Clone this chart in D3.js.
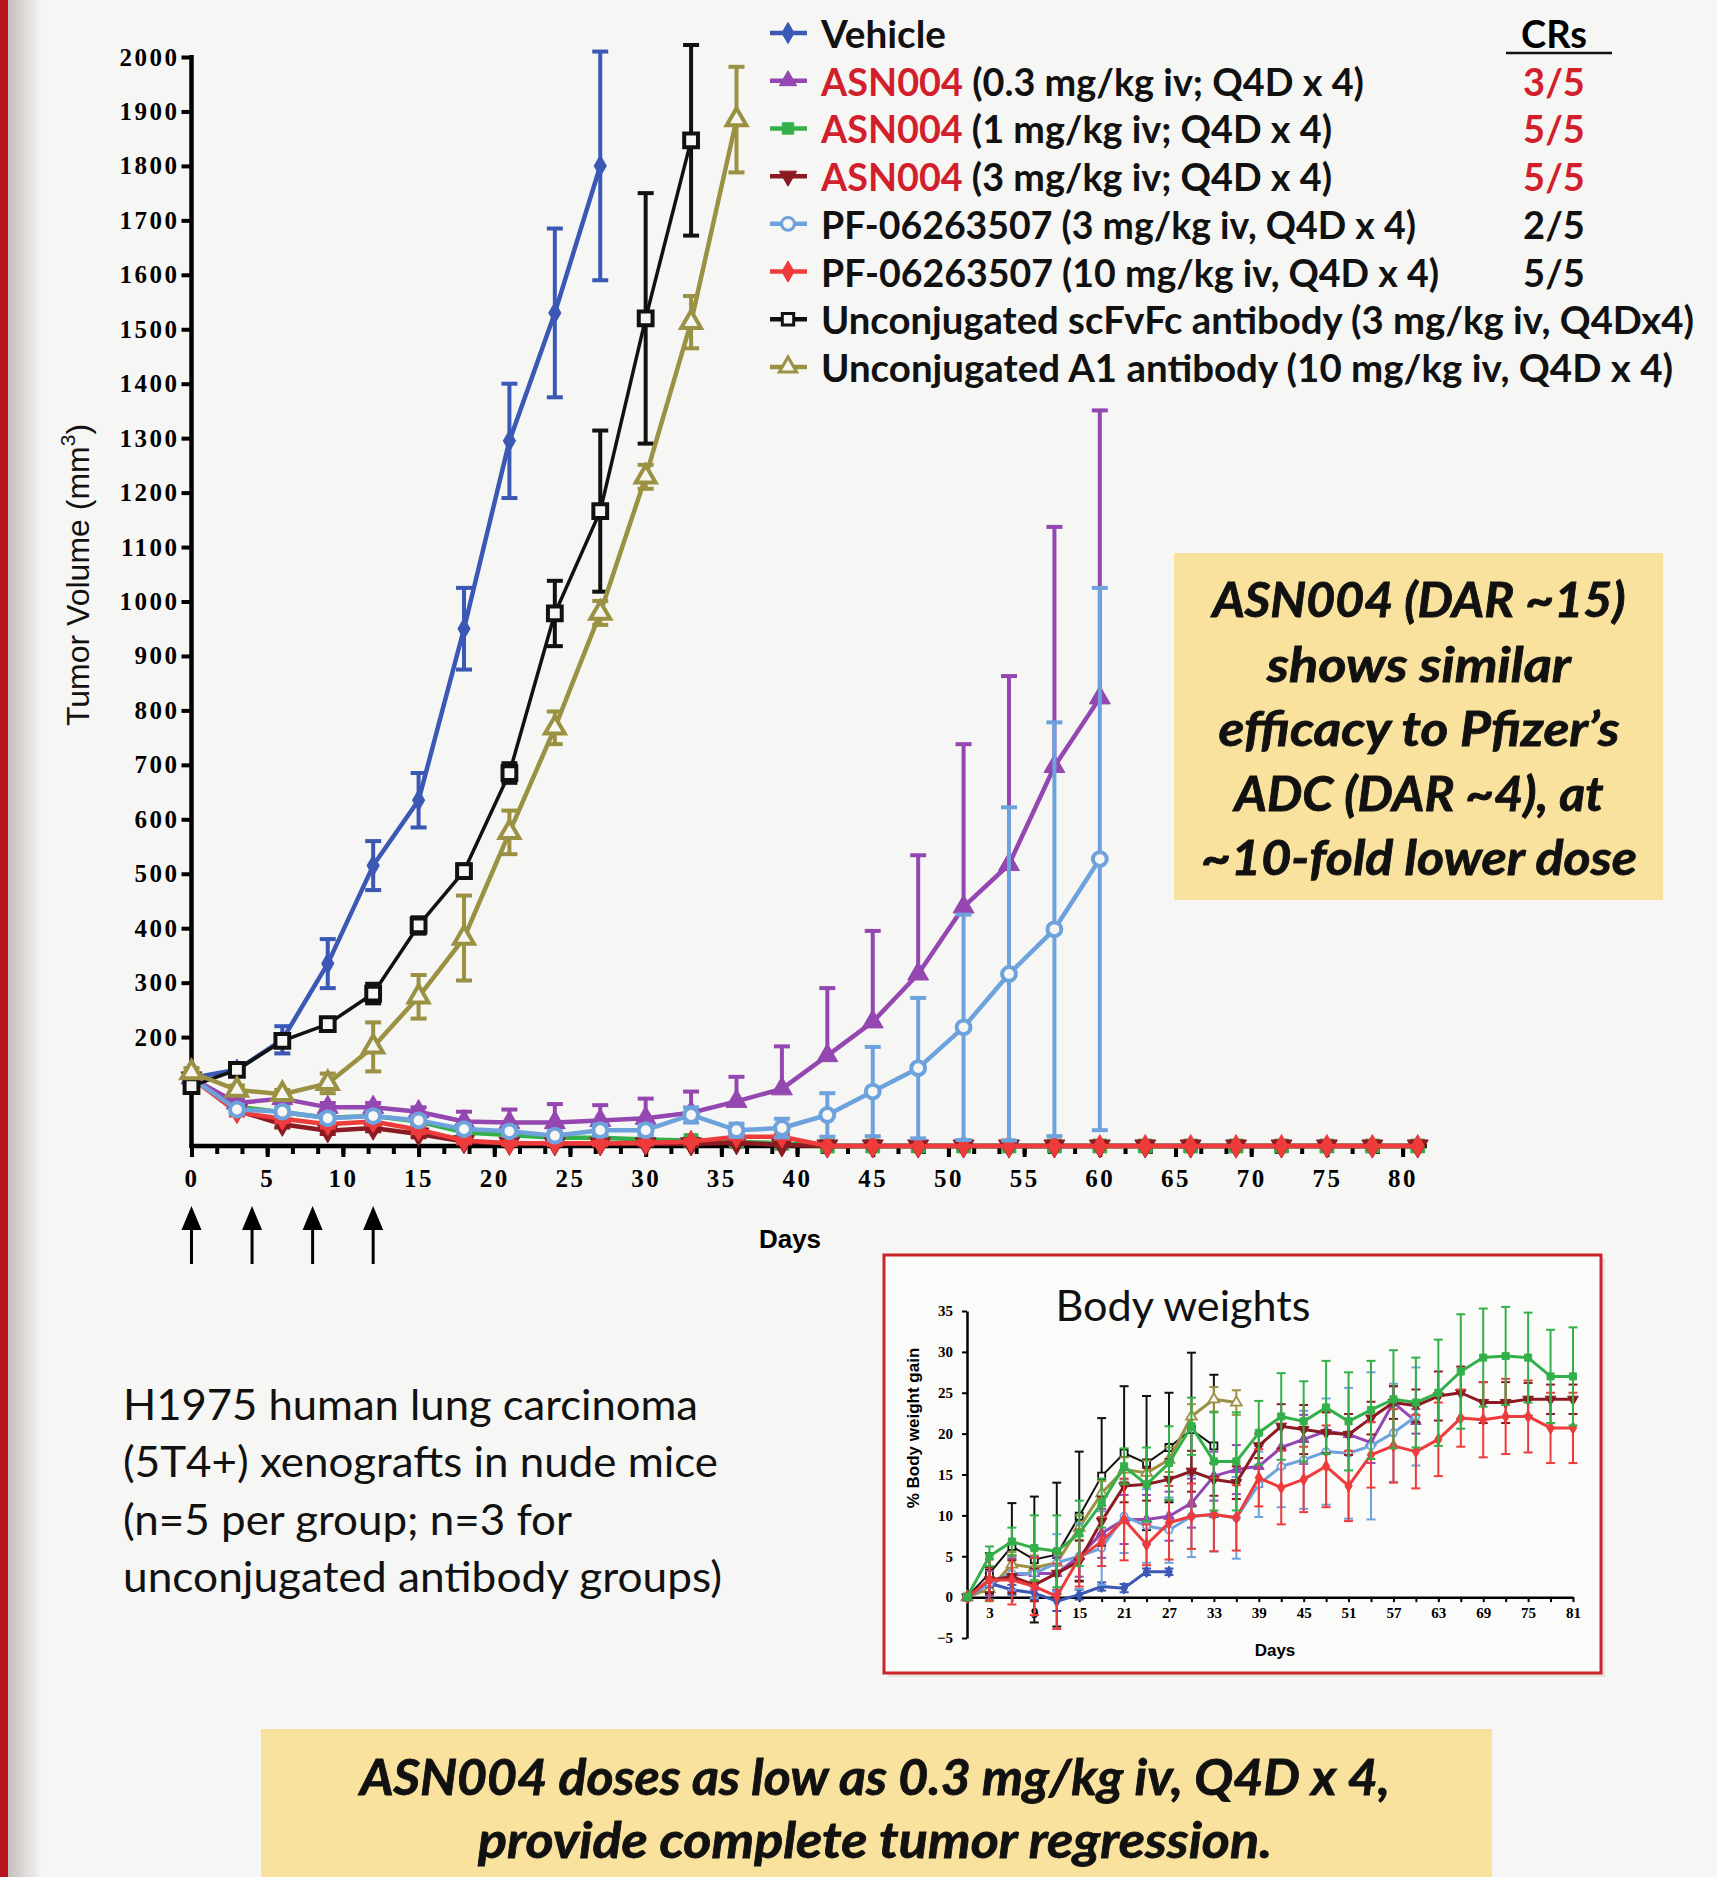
<!DOCTYPE html>
<html>
<head>
<meta charset="utf-8">
<script src="https://cdn.jsdelivr.net/npm/d3@7"></script>
<style>
  body { margin: 0; background: #f6f6f4; }
  svg { display: block; }
</style>
</head>
<body>
<div id="chart"></div>
<script>
// ---- data ----
const tumorDays = [0, 3, 6, 9, 12, 15, 18, 21, 24, 27, 30, 33, 36, 39, 42, 45, 48, 51, 54, 57, 60, 63, 66, 69, 72, 75, 78, 81];

// tumor volume (mm3), mean and SEM
const vehicleVol = [125, 140, 195, 335, 515, 635, 950, 1295, 1530, 1800];
const vehicleSem = [8, 8, 25, 45, 45, 50, 75, 105, 155, 210];
const asn03Vol = [125, 79, 87, 71, 71, 63, 45, 43, 43, 47, 51, 61, 82, 105, 166, 228, 316, 439, 517, 697, 823];
const asn03Sem = [5, 6, 8, 8, 8, 8, 18, 24, 34, 28, 36, 39, 45, 78, 124, 167, 218, 299, 346, 440, 528];
const asn1Vol = [125, 72, 62, 52, 55, 45, 25, 20, 15, 15, 12, 10, 8, 5, 0, 0, 0, 0, 0, 0, 0, 0, 0, 0, 0, 0, 0, 0];
const asn1Sem = [5, 6, 6, 6, 6, 6, 5, 5, 5, 5, 4, 4, 4, 3, 0, 0, 0, 0, 0, 0, 0, 0, 0, 0, 0, 0, 0, 0];
const asn3Vol = [125, 65, 40, 28, 33, 22, 8, 5, 4, 4, 4, 4, 6, 2, 0, 0, 0, 0, 0, 0, 0, 0, 0, 0, 0, 0, 0, 0];
const asn3Sem = [5, 6, 6, 6, 6, 6, 4, 3, 3, 3, 3, 3, 3, 2, 0, 0, 0, 0, 0, 0, 0, 0, 0, 0, 0, 0, 0, 0];
const pf3Vol = [125, 67, 63, 51, 55, 47, 31, 27, 19, 29, 29, 57, 29, 33, 57, 100, 143, 218, 316, 398, 527];
const pf3Sem = [5, 8, 8, 8, 8, 8, 8, 8, 8, 10, 10, 14, 12, 17, 40, 82, 129, 207, 306, 380, 498];
const pf10Vol = [125, 62, 50, 40, 45, 30, 10, 5, 5, 5, 6, 8, 17, 17, 0, 0, 0, 0, 0, 0, 0, 0, 0, 0, 0, 0, 0, 0];
const pf10Sem = [5, 6, 6, 6, 6, 6, 4, 3, 3, 3, 3, 3, 4, 4, 0, 0, 0, 0, 0, 0, 0, 0, 0, 0, 0, 0, 0, 0];
const scfvVol = [110, 140, 193, 224, 280, 405, 505, 685, 978, 1166, 1520, 1847];
const scfvSem = [8, 8, 10, 10, 18, 15, 12, 18, 60, 148, 230, 175];
const a1Vol = [135, 103, 95, 115, 182, 274, 382, 576, 768, 979, 1229, 1513, 1885];
const a1Sem = [8, 8, 8, 18, 45, 40, 78, 40, 30, 22, 22, 48, 97];

// body weight gain (%), mean and SEM
const bwVehicle = [0, 1.7, 0.9, 0.5, -0.5, 0.3, 1.3, 1.1, 3.1, 3.1];
const bwVehicleSem = [0.3, 0.5, 0.6, 0.8, 1.2, 0.6, 0.5, 0.5, 0.4, 0.4];
const bwAsn03 = [0, 1.7, 2.7, 2.9, 2.9, 5.0, 7.8, 9.5, 9.5, 9.9, 11.5, 14.8, 15.6, 16, 18.3, 19.3, 20.3, 19.9, 18.9, 23.8, 21.5];
const bwAsn03Sem = [0.3, 1.5, 2, 2, 2, 2.5, 3, 3, 3, 3, 3, 3, 3, 2.5, 2.5, 3, 2.5, 2.5, 2.5, 2, 1.5];
const bwAsn1 = [0, 5, 6.8, 6.0, 5.6, 7.8, 11.5, 16, 13.8, 16.4, 20.9, 16.6, 16.6, 20.1, 22.1, 21.5, 23.2, 21.5, 22.9, 24.2, 23.8, 25, 27.6, 29.3, 29.5, 29.3, 27, 27];
const bwAsn1Sem = [0.3, 1.2, 1.7, 4, 4.4, 4, 3, 2.2, 4.5, 4.5, 3.5, 6, 6, 3.9, 5.3, 4.9, 5.7, 6, 6, 6, 5.5, 6.5, 7, 6, 6, 5.5, 5.7, 6];
const bwAsn3 = [0, 2.1, 2.5, 1.5, 2.9, 4.4, 9.3, 13.6, 13.8, 14.4, 15.4, 14.4, 14, 18.5, 20.9, 20.5, 20.1, 19.9, 21.9, 23.8, 23.4, 24.6, 25, 23.8, 23.8, 24.2, 24.2, 24.2];
const bwAsn3Sem = [0.3, 1.5, 2, 2, 2.5, 2.5, 3, 2, 2, 2.5, 2.5, 2, 2, 1.5, 2.7, 3, 2.5, 2.5, 2, 2, 2, 3, 3.2, 2.5, 2.5, 2, 1.8, 1.8];
const bwPf3 = [0, 1.7, 2.9, 2.9, 4.2, 5.0, 6.0, 9.9, 8.7, 8.2, 9.9, 10.1, 9.7, 13.8, 16, 16.8, 17.8, 17.6, 18.5, 20.1, 22.1];
const bwPf3Sem = [0.3, 2, 2, 3, 3.5, 4, 4.5, 4.5, 4.5, 4, 5, 4.5, 5, 4, 5, 6, 6.5, 8, 9, 6, 6];
const bwPf10 = [0, 2.1, 2.1, 1.3, 0.1, 4.8, 6.8, 9.5, 6.4, 9.1, 9.9, 10.1, 9.7, 14.6, 13.4, 14.4, 16, 13.6, 17.4, 18.5, 17.8, 19.3, 21.9, 21.7, 22.1, 22.1, 20.7, 20.7];
const bwPf10Sem = [0.3, 2.5, 3, 3.5, 4, 3.5, 3, 5, 2.5, 4.5, 4, 4.5, 4, 3.5, 4.5, 4, 5, 4.3, 4, 4.5, 4.5, 4.5, 3.5, 4.6, 4.6, 4.4, 4.3, 4.3];
const bwScfv = [0, 2.9, 6.2, 4.6, 5.2, 9.9, 14.8, 17.6, 16.4, 18.3, 20.5, 18.5];
const bwScfvSem = [0.3, 2.5, 5.3, 7.7, 8.8, 7.9, 7.1, 8.2, 8.2, 6.7, 9.4, 8.7];
const bwA1 = [0, 1.0, 4.0, 3.6, 4.2, 8.5, 12.7, 15.6, 15.2, 16.8, 22.1, 24.2, 23.8];
const bwA1Sem = [0.3, 1.5, 1.5, 1.5, 1.5, 1.5, 1.5, 1.5, 1.5, 1.5, 1.5, 1.5, 1.5];

const legendDrug = ['', 'ASN004', 'ASN004', 'ASN004', '', '', '', ''];
const legendRest = ['Vehicle', ' (0.3 mg/kg iv; Q4D x 4)', ' (1 mg/kg iv; Q4D x 4)', ' (3 mg/kg iv; Q4D x 4)',
  'PF-06263507 (3 mg/kg iv, Q4D x 4)', 'PF-06263507 (10 mg/kg iv, Q4D x 4)',
  'Unconjugated scFvFc antibody (3 mg/kg iv, Q4Dx4)', 'Unconjugated A1 antibody (10 mg/kg iv, Q4D x 4)'];
const crValues = ['', '3/5', '5/5', '5/5', '2/5', '5/5', '', ''];
const dosingDays = [0, 4, 8, 12];
const yTicks = [200, 300, 400, 500, 600, 700, 800, 900, 1000, 1100, 1200, 1300, 1400, 1500, 1600, 1700, 1800, 1900, 2000];
const xTicks = [0, 5, 10, 15, 20, 25, 30, 35, 40, 45, 50, 55, 60, 65, 70, 75, 80];
const bwYTicks = [-5, 0, 5, 10, 15, 20, 25, 30, 35];
const bwXTicks = [3, 9, 15, 21, 27, 33, 39, 45, 51, 57, 63, 69, 75, 81];

const calloutLines = ['ASN004 (DAR ~15)', 'shows similar', 'efficacy to Pfizer\u2019s', 'ADC (DAR ~4), at', '~10-fold lower dose'];
const summaryLines = ['ASN004 doses as low as 0.3 mg/kg iv, Q4D x 4,', 'provide complete tumor regression.'];
const modelLines = ['H1975 human lung carcinoma', '(5T4+) xenografts in nude mice', '(n=5 per group; n=3 for', 'unconjugated antibody groups)'];

// ---- styles / layout ----
const colors = ['#3a58b4', '#9447b0', '#34b04a', '#8c1a22', '#6ea2dc', '#ee3b3b', '#111111', '#9a9142'];
const shapes = ['diamond', 'triUp', 'square', 'triDown', 'circle', 'diamond', 'square', 'triUp'];
const hollow = [false, false, false, false, true, false, true, true];
const upperOnly = [false, true, false, false, false, false, false, false];
const drawOrder = [2, 3, 5, 1, 4, 0, 6, 7];
// measured widths of the slide's text lines (px), Calibri is narrower than the fonts we have
const legendWidths = [125, 543, 511, 511, 595, 618, 873, 852];
const calloutWidths = [413, 304, 401, 369, 436];
const summaryWidths = [1030, 794];
const modelWidths = [575, 595, 449, 599];

const mainSeries = [
  [vehicleVol, vehicleSem], [asn03Vol, asn03Sem], [asn1Vol, asn1Sem], [asn3Vol, asn3Sem],
  [pf3Vol, pf3Sem], [pf10Vol, pf10Sem], [scfvVol, scfvSem], [a1Vol, a1Sem]
];
const bwSeries = [
  [bwVehicle, bwVehicleSem], [bwAsn03, bwAsn03Sem], [bwAsn1, bwAsn1Sem], [bwAsn3, bwAsn3Sem],
  [bwPf3, bwPf3Sem], [bwPf10, bwPf10Sem], [bwScfv, bwScfvSem], [bwA1, bwA1Sem]
];

const W = 1717, H = 1877;
const BG = '#f6f6f4';
const BOX = '#f9e29e';
const sans = 'Lato, "Open Sans", sans-serif';
const serif = '"Liberation Serif", "Times New Roman", serif';
const arial = '"Liberation Sans", Arial, sans-serif';

const svg = d3.select('#chart').append('svg').attr('width', W).attr('height', H);

const defs = svg.append('defs');
const shade = defs.append('linearGradient').attr('id', 'edgeShade');
shade.append('stop').attr('offset', '0%').attr('stop-color', '#8a7a7a').attr('stop-opacity', 0.45);
shade.append('stop').attr('offset', '100%').attr('stop-color', '#8a7a7a').attr('stop-opacity', 0);

svg.append('rect').attr('width', W).attr('height', H).attr('fill', BG);
svg.append('rect').attr('x', 8).attr('width', 34).attr('height', H).attr('fill', 'url(#edgeShade)');
svg.append('rect').attr('width', 8).attr('height', H).attr('fill', '#b8141c');

function symbolPath(shape, size) {
  if (shape === 'diamond') return d3.symbol().type(d3.symbolDiamond).size(size)();
  if (shape === 'square') return d3.symbol().type(d3.symbolSquare).size(size)();
  if (shape === 'circle') return d3.symbol().type(d3.symbolCircle).size(size)();
  return d3.symbol().type(d3.symbolTriangle).size(size)();
}

function drawSeries(layer, xs, ys, vals, sems, i, st) {
  const pts = vals.map((v, k) => ({ day: tumorDays[k], v: v, e: sems[k] }));
  const g = layer.append('g').attr('class', 'series');
  const col = colors[i];
  const low = d => (upperOnly[i] && st.clamp) ? d.v : (st.clamp ? Math.max(0, d.v - d.e) : d.v - d.e);

  const bars = g.selectAll('.err').data(pts.filter(d => d.e > 0)).join('g').attr('class', 'err')
    .attr('stroke', col).attr('stroke-width', st.errWidth);
  bars.append('line')
    .attr('x1', d => xs(d.day)).attr('x2', d => xs(d.day))
    .attr('y1', d => ys(low(d)))
    .attr('y2', d => ys(d.v + d.e));
  bars.append('line')
    .attr('x1', d => xs(d.day) - st.cap).attr('x2', d => xs(d.day) + st.cap)
    .attr('y1', d => ys(d.v + d.e)).attr('y2', d => ys(d.v + d.e));
  bars.filter(d => low(d) === d.v - d.e).append('line')
    .attr('x1', d => xs(d.day) - st.cap).attr('x2', d => xs(d.day) + st.cap)
    .attr('y1', d => ys(d.v - d.e)).attr('y2', d => ys(d.v - d.e));

  g.append('path')
    .datum(pts)
    .attr('fill', 'none')
    .attr('stroke', col)
    .attr('stroke-width', i === 6 ? st.lineWidth - 1 : st.lineWidth)
    .attr('stroke-linejoin', 'round')
    .attr('d', d3.line().x(d => xs(d.day)).y(d => ys(d.v)));

  g.selectAll('.mark').data(pts).join('path')
    .attr('class', 'mark')
    .attr('d', symbolPath(shapes[i], st.size[i]))
    .attr('transform', d => `translate(${xs(d.day)},${ys(d.v)})` + (shapes[i] === 'triDown' ? ' rotate(180)' : ''))
    .attr('fill', hollow[i] ? BG : col)
    .attr('stroke', col)
    .attr('stroke-width', hollow[i] ? st.hollowWidth : 1);
}

// ---- main tumor volume chart ----
const x = d3.scaleLinear().domain([0, 80]).range([191.5, 1402.6]);
const y = d3.scaleLinear().domain([0, 2000]).range([1146, 57]);
const main = svg.append('g').attr('class', 'mainChart');

const yAxis = main.append('g')
  .attr('class', 'yAxis')
  .attr('transform', `translate(${x(0)},0)`)
  .call(d3.axisLeft(y).tickValues(yTicks).tickSize(10).tickSizeOuter(0).tickPadding(2).tickFormat(d3.format('d')));
yAxis.select('.domain').remove();
yAxis.selectAll('line').attr('stroke', '#000').attr('stroke-width', 4);
yAxis.selectAll('text')
  .style('font-family', serif).style('font-weight', 'bold')
  .style('font-size', '25px').style('letter-spacing', '2.5px').attr('fill', '#000');
main.append('line')
  .attr('x1', x(0)).attr('x2', x(0)).attr('y1', y(2000) - 2).attr('y2', y(0) + 2)
  .attr('stroke', '#000').attr('stroke-width', 4.5);

const xMinor = main.append('g')
  .attr('transform', `translate(0,${y(0)})`)
  .call(d3.axisBottom(x).tickValues(d3.range(0, 81.6, 5 / 3)).tickSize(8).tickFormat(''));
xMinor.select('.domain').remove();
xMinor.selectAll('line').attr('stroke', '#000').attr('stroke-width', 4);

const xAxis = main.append('g')
  .attr('class', 'xAxis')
  .attr('transform', `translate(0,${y(0)})`)
  .call(d3.axisBottom(x).tickValues(xTicks).tickSize(11).tickPadding(12));
xAxis.select('.domain').remove();
xAxis.selectAll('line').attr('stroke', '#000').attr('stroke-width', 4);
xAxis.selectAll('text')
  .style('font-family', serif).style('font-weight', 'bold')
  .style('font-size', '25px').style('letter-spacing', '2.5px').attr('fill', '#000');
main.append('line')
  .attr('x1', x(0) - 2).attr('x2', x(81.6)).attr('y1', y(0)).attr('y2', y(0))
  .attr('stroke', '#000').attr('stroke-width', 4.5);

main.append('text')
  .attr('transform', 'translate(78,575) rotate(-90)')
  .attr('text-anchor', 'middle')
  .attr('dominant-baseline', 'central')
  .style('font-family', arial)
  .style('font-size', '32px')
  .attr('fill', '#111')
  .call(t => {
    t.append('tspan').text('Tumor Volume (mm');
    t.append('tspan').attr('dy', -11).style('font-size', '21px').text('3');
    t.append('tspan').attr('dy', 11).text(')');
  });

main.append('text')
  .attr('x', 790).attr('y', 1239)
  .attr('text-anchor', 'middle').attr('dominant-baseline', 'central')
  .style('font-family', arial)
  .style('font-weight', 'bold').style('font-size', '26px')
  .text('Days');

const arrows = main.selectAll('.doseArrow').data(dosingDays).join('g').attr('class', 'doseArrow');
arrows.append('line')
  .attr('x1', d => x(d)).attr('x2', d => x(d)).attr('y1', 1225).attr('y2', 1264)
  .attr('stroke', '#000').attr('stroke-width', 3);
arrows.append('path')
  .attr('d', d => `M${x(d)},1206 L${x(d) - 10},1230 L${x(d) + 10},1230 Z`)
  .attr('fill', '#000');

const mainStyle = {
  lineWidth: 4.5, errWidth: 4, cap: 8, clamp: true, hollowWidth: 4,
  size: [130, 190, 190, 190, 150, 150, 190, 170]
};
const plot = main.append('g').attr('class', 'plotArea');
drawOrder.forEach(i => drawSeries(plot, x, y, mainSeries[i][0], mainSeries[i][1], i, mainStyle));

// ---- legend ----
const legend = svg.append('g').attr('class', 'legend');
const rowY = d3.scaleLinear().domain([0, 7]).range([33, 367]);
legendRest.forEach((txt, i) => {
  const row = legend.append('g').attr('transform', `translate(0,${rowY(i)})`);
  row.append('line').attr('x1', 770).attr('x2', 807).attr('stroke', colors[i]).attr('stroke-width', 4.5);
  row.append('path')
    .attr('d', symbolPath(shapes[i], 130))
    .attr('transform', 'translate(788,0)' + (shapes[i] === 'triDown' ? ' rotate(180)' : ''))
    .attr('fill', hollow[i] ? BG : colors[i])
    .attr('stroke', colors[i]).attr('stroke-width', hollow[i] ? 3 : 1);
  const t = row.append('text')
    .attr('x', 821).attr('y', 0).attr('dominant-baseline', 'central')
    .attr('textLength', legendWidths[i]).attr('lengthAdjust', 'spacingAndGlyphs')
    .style('font-family', sans).style('font-weight', 'bold').style('font-size', '38px')
    .attr('fill', '#111');
  if (legendDrug[i]) t.append('tspan').attr('fill', '#d11f2c').text(legendDrug[i]);
  t.append('tspan').text(txt);
  if (crValues[i]) {
    row.append('text')
      .attr('x', 1554).attr('y', 0).attr('text-anchor', 'middle').attr('dominant-baseline', 'central')
      .style('font-family', sans).style('font-weight', 'bold').style('font-size', '38px')
      .attr('fill', i <= 3 ? '#d11f2c' : '#111')
      .text(crValues[i]);
  }
});
legend.append('text')
  .attr('x', 1554).attr('y', rowY(0)).attr('text-anchor', 'middle').attr('dominant-baseline', 'central')
  .style('font-family', sans).style('font-weight', 'bold').style('font-size', '38px')
  .text('CRs');
legend.append('line').attr('x1', 1506).attr('x2', 1612).attr('y1', 53).attr('y2', 53)
  .attr('stroke', '#111').attr('stroke-width', 2.5);

// ---- callout boxes ----
svg.append('rect').attr('x', 1174).attr('y', 553).attr('width', 489).attr('height', 347).attr('fill', BOX);
svg.append('g').selectAll('text').data(calloutLines).join('text')
  .attr('x', 1419).attr('y', (d, i) => 599 + i * 64.5)
  .attr('text-anchor', 'middle').attr('dominant-baseline', 'central')
  .attr('textLength', (d, i) => calloutWidths[i]).attr('lengthAdjust', 'spacingAndGlyphs')
  .style('font-family', sans).style('font-style', 'italic').style('font-weight', 'bold')
  .style('font-size', '47px').attr('fill', '#111')
  .attr('stroke', '#111').attr('stroke-width', 0.8)
  .text(d => d);

svg.append('rect').attr('x', 261).attr('y', 1729).attr('width', 1231).attr('height', 160).attr('fill', BOX);
svg.append('g').selectAll('text').data(summaryLines).join('text')
  .attr('x', 875).attr('y', (d, i) => 1776 + i * 63)
  .attr('text-anchor', 'middle').attr('dominant-baseline', 'central')
  .attr('textLength', (d, i) => summaryWidths[i]).attr('lengthAdjust', 'spacingAndGlyphs')
  .style('font-family', sans).style('font-style', 'italic').style('font-weight', 'bold')
  .style('font-size', '50px').attr('fill', '#111')
  .attr('stroke', '#111').attr('stroke-width', 0.8)
  .text(d => d);

svg.append('g').selectAll('text').data(modelLines).join('text')
  .attr('x', 123).attr('y', (d, i) => 1403 + i * 57.6)
  .attr('dominant-baseline', 'central')
  .attr('textLength', (d, i) => modelWidths[i]).attr('lengthAdjust', 'spacingAndGlyphs')
  .style('font-family', sans).style('font-size', '43px').attr('fill', '#111')
  .text(d => d);

// ---- body weight inset ----
const inset = svg.append('g').attr('class', 'inset');
inset.append('rect').attr('x', 888).attr('y', 1259).attr('width', 717).attr('height', 418)
  .attr('fill', '#d8d4d4').attr('opacity', 0.6);
inset.append('rect').attr('x', 884).attr('y', 1255).attr('width', 717).attr('height', 418)
  .attr('fill', '#fbfbfa').attr('stroke', '#c9252b').attr('stroke-width', 3);

const bx = d3.scaleLinear().domain([0, 81]).range([967, 1573]);
const by = d3.scaleLinear().domain([-5, 35]).range([1638, 1311]);

const bwY = inset.append('g')
  .attr('transform', `translate(${bx(0)},0)`)
  .call(d3.axisLeft(by).tickValues(bwYTicks).tickSize(5).tickSizeOuter(0).tickPadding(9));
bwY.select('.domain').attr('stroke-width', 2.5);
bwY.selectAll('line').attr('stroke-width', 2);
bwY.selectAll('text')
  .style('font-family', serif).style('font-weight', 'bold').style('font-size', '15px');

const bwX = inset.append('g')
  .attr('transform', `translate(0,${by(0)})`)
  .call(d3.axisBottom(bx).tickValues(d3.range(0, 82, 3)).tickSize(5).tickSizeOuter(0).tickFormat(d => bwXTicks.includes(d) ? d : ''));
bwX.select('.domain').attr('stroke-width', 2.5);
bwX.selectAll('line').attr('stroke-width', 2);
bwX.selectAll('text').attr('dy', '0.85em')
  .style('font-family', serif).style('font-weight', 'bold').style('font-size', '15px');

inset.append('text')
  .attr('transform', 'translate(913,1428) rotate(-90)')
  .attr('text-anchor', 'middle').attr('dominant-baseline', 'central')
  .style('font-family', arial).style('font-weight', 'bold').style('font-size', '17px')
  .text('% Body weight gain');
inset.append('text')
  .attr('x', 1275).attr('y', 1650).attr('text-anchor', 'middle').attr('dominant-baseline', 'central')
  .style('font-family', arial).style('font-weight', 'bold').style('font-size', '17px')
  .text('Days');
inset.append('text')
  .attr('x', 1183).attr('y', 1305).attr('text-anchor', 'middle').attr('dominant-baseline', 'central')
  .attr('textLength', 255).attr('lengthAdjust', 'spacingAndGlyphs')
  .style('font-family', sans).style('font-size', '42px').attr('fill', '#111')
  .text('Body weights');

const bwStyle = {
  lineWidth: 3, errWidth: 2, cap: 4.5, clamp: false, hollowWidth: 1.8,
  size: [40, 50, 50, 50, 40, 45, 50, 50]
};
const bwPlot = inset.append('g');
[6, 7, 0, 1, 4, 3, 5, 2].forEach(i => drawSeries(bwPlot, bx, by, bwSeries[i][0], bwSeries[i][1], i, bwStyle));
</script>
</body>
</html>
